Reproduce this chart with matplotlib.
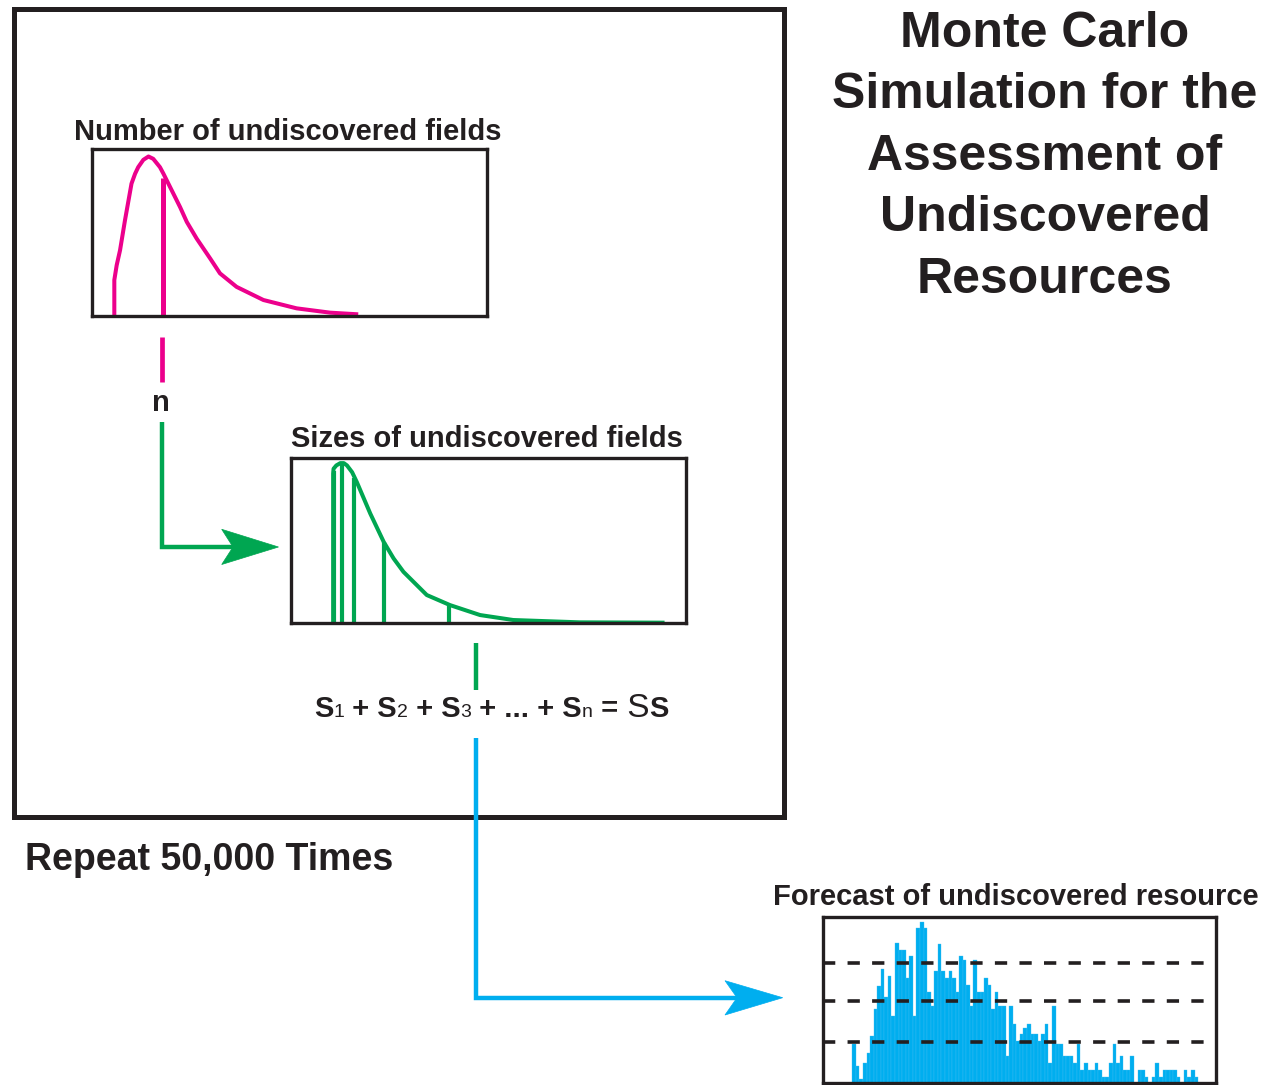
import matplotlib
matplotlib.use('Agg')
import matplotlib.pyplot as plt
from matplotlib.patches import Polygon, Rectangle
import numpy as np

plt.rcParams['font.family'] = ['Liberation Sans', 'DejaVu Sans']

W, H = 1266, 1085
DPI = 100

PINK = '#EC008C'
GREEN = '#00A651'
BLUE = '#00AEEF'
INK = '#231F20'

# ---------------- data ----------------
# Number of undiscovered fields (pink distribution), box units 0-100
count_x = [5.65, 5.65, 6.25, 7.1, 8.35, 10.0, 10.9, 11.7, 13.0, 14.3, 15.5,
           17.2, 18.1, 20.2, 22.3, 24.0, 26.5, 29.9, 32.4, 36.6, 43.4, 51.8,
           60.3, 67.4]
count_y = [0, 21.6, 30.5, 39.5, 57.5, 79.5, 85.4, 89.4, 93.8, 95.8, 94.4,
           89.4, 85.4, 75.4, 65.4, 56.5, 46.5, 34.6, 25.6, 17.5, 9.6, 4.6,
           2.0, 1.0]
count_draw_x = [17.9]
count_draw_y = [83]

# Sizes of undiscovered fields (green distribution)
size_x = [10.8, 10.8, 10.9, 11.6, 12.6, 13.5, 14.3, 15.6, 16.8, 20.2, 23.6,
          26.1, 28.6, 34.5, 40.4, 48.0, 56.4, 73.2, 94.7]
size_y = [0, 90.2, 93.2, 95.2, 96.6, 96.6, 95.2, 91.1, 85.1, 66.1, 49.0,
          39.0, 30.9, 16.9, 10.8, 4.8, 1.8, 0.4, 0.2]
size_draw_x = [10.9, 13.0, 16.2, 23.6, 40.0]
size_draw_y = [92, 96.6, 87.5, 49, 11]

# Forecast histogram (blue), relative frequencies
forecast_counts = [115, 50, 11, 59, 88, 140, 222, 289, 340, 257, 320, 200,
                   418, 397, 397, 314, 381, 200, 463, 483, 463, 273, 229,
                   336, 417, 336, 315, 336, 315, 273, 381, 368, 293, 229,
                   368, 273, 273, 314, 293, 222, 273, 229, 229, 81, 229,
                   176, 126, 146, 164, 176, 146, 146, 126, 146, 176, 58,
                   229, 115, 115, 81, 81, 81, 58, 115, 37, 58, 37, 37, 58,
                   37, 17, 17, 58, 115, 58, 81, 37, 37, 81, 0, 37, 37, 17,
                   0, 17, 58, 17, 37, 37, 37, 37, 17, 0, 37, 17, 37, 17]
forecast_levels = [121, 246, 360]

title_lines = ['Monte Carlo', 'Simulation for the', 'Assessment of',
               'Undiscovered', 'Resources']

# ---------------- figure ----------------
fig = plt.figure(figsize=(W / DPI, H / DPI), dpi=DPI)
ax0 = fig.add_axes([0, 0, 1, 1])
ax0.set_xlim(0, W)
ax0.set_ylim(H, 0)
ax0.axis('off')


def box_axes(left, top, right, bottom):
    a = fig.add_axes([left / W, 1 - bottom / H, (right - left) / W,
                      (bottom - top) / H])
    a.set_xticks([])
    a.set_yticks([])
    for s in a.spines.values():
        s.set_linewidth(2.4)
        s.set_color(INK)
    a.patch.set_alpha(0)
    return a


# big repeat box
ax0.add_patch(Rectangle((14, 9), 770, 808, fill=False, lw=3.6, ec=INK))

# --- pink panel
axp = box_axes(92, 149.5, 487, 316)
axp.plot(count_x, count_y, color=PINK, lw=2.9, solid_capstyle='butt',
         solid_joinstyle='round')
axp.vlines(count_draw_x, 0, count_draw_y, color=PINK, lw=3.6)
axp.set_xlim(0, 100)
axp.set_ylim(0, 100)

# --- green panel
axg = box_axes(290.5, 457.5, 685.5, 623)
axg.plot(size_x, size_y, color=GREEN, lw=2.9, solid_capstyle='butt',
         solid_joinstyle='round')
axg.vlines(size_draw_x, 0, size_draw_y, color=GREEN, lw=3.0)
axg.set_xlim(0, 100)
axg.set_ylim(0, 100)

# --- forecast histogram
axh = box_axes(823, 916.7, 1216, 1082.7)
idx = np.arange(len(forecast_counts))
axh.bar(idx, forecast_counts, width=1.0, align='edge', color=BLUE,
        edgecolor='#45bff0', linewidth=0.25, zorder=1)
for lv in forecast_levels:
    axh.axhline(lv, color=INK, lw=2.6, linestyle=(0, (3.4, 3.4)), zorder=3)
axh.set_xlim(-8.2, 102.0)
axh.set_ylim(0, 498)

# --- connectors
ax0.plot([162, 162], [337, 382], color=PINK, lw=3.4, solid_capstyle='butt')
ax0.plot([161.5, 161.5, 236], [422, 547, 547], color=GREEN, lw=3.2,
         solid_capstyle='butt', solid_joinstyle='miter')
ax0.add_patch(Polygon([(278.5, 547), (221.7, 529.3), (233, 547),
                       (221.7, 564.5)], closed=True, fc=GREEN, ec=GREEN, lw=0.5))
ax0.plot([476, 476], [643, 690], color=GREEN, lw=3.2, solid_capstyle='butt')
ax0.plot([475.5, 475.5, 740], [738, 997.7, 997.7], color=BLUE, lw=3.2,
         solid_capstyle='butt', solid_joinstyle='miter')
ax0.add_patch(Polygon([(782.7, 997.7), (725, 980.7), (737, 997.7),
                       (725, 1015)], closed=True, fc=BLUE, ec=BLUE, lw=0.5))

# --- texts
for i, line in enumerate(title_lines):
    ax0.text(1045, 46.7 + 61.5 * i, line, fontsize=36, fontweight='bold',
             ha='center', va='baseline', color=INK)

ax0.text(288, 140, 'Number of undiscovered fields', fontsize=21,
         fontweight='bold', ha='center', va='baseline', color=INK)
ax0.text(487, 447, 'Sizes of undiscovered fields', fontsize=21,
         fontweight='bold', ha='center', va='baseline', color=INK)
ax0.text(1016, 905, 'Forecast of undiscovered resource', fontsize=21,
         fontweight='bold', ha='center', va='baseline', color=INK)
ax0.text(161, 411, 'n', fontsize=21, fontweight='bold', ha='center',
         va='baseline', color=INK)
ax0.text(25, 870, 'Repeat 50,000 Times', fontsize=27, fontweight='bold',
         ha='left', va='baseline', color=INK)

# formula, assembled piece by piece on one baseline
renderer = fig.canvas.get_renderer()
pieces = [('S', 21, 'bold'), ('1', 14, 'normal'), (' + S', 21, 'bold'),
          ('2', 14, 'normal'), (' + S', 21, 'bold'), ('3', 14, 'normal'),
          (' + ... + S', 21, 'bold'), ('n', 14, 'normal'), (' =', 21, 'bold'),
          (' S', 24, 'normal'), ('S', 21, 'bold')]
x = 314
for s, fs, fw in pieces:
    t = ax0.text(x, 717, s, fontsize=fs, fontweight=fw, ha='left',
                 va='baseline', color=INK)
    bb = t.get_window_extent(renderer=renderer)
    x += bb.width

fig.savefig('out.png', dpi=DPI)
